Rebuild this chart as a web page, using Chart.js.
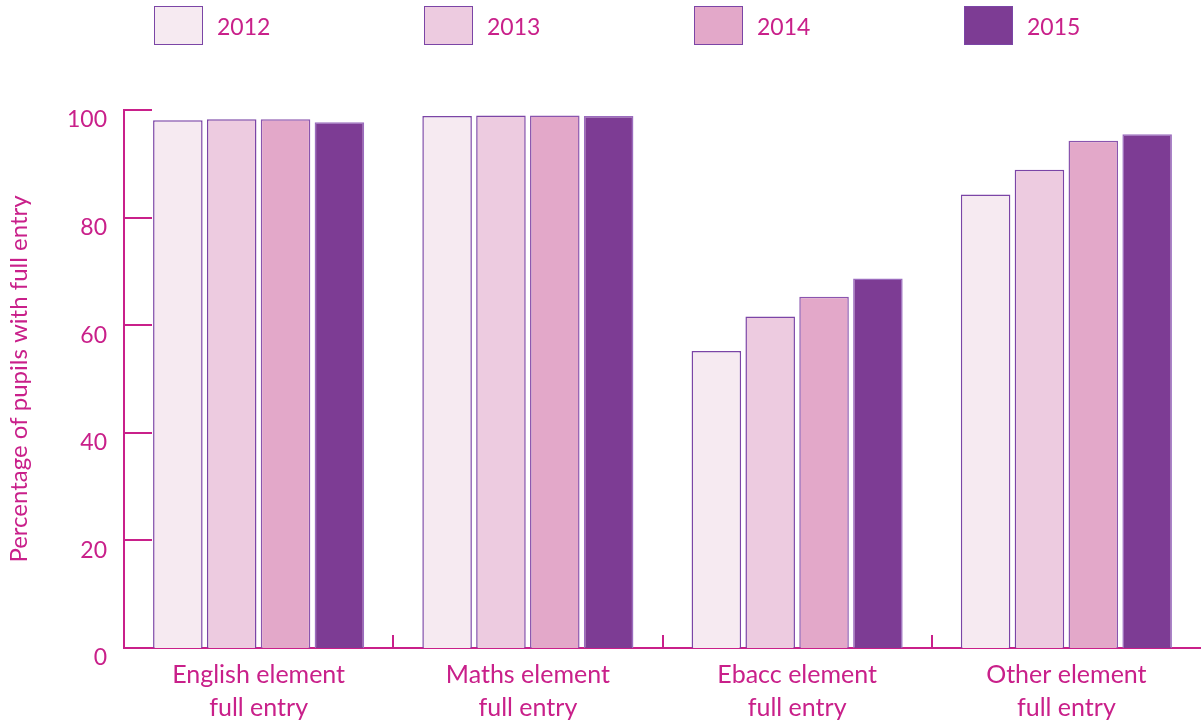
<!DOCTYPE html>
<html>
<head>
<meta charset="utf-8">
<script src="https://cdn.jsdelivr.net/npm/chart.js@4.4.1/dist/chart.umd.min.js"></script>
<style>
body { margin: 0; background: #fff; font-family: Lato, sans-serif; }
#wrap { position: relative; width: 1201px; height: 722px; }
#chart { position: absolute; left: 0; top: 0; }
#legend { position: absolute; left: 154px; top: 6px; display: flex; }
.item { width: 270px; display: flex; align-items: center; }
.box { width: 47px; height: 37px; border: 1px solid #7B45A6; margin-right: 14px; }
.item span { color: #C9208A; font-size: 23px; }
</style>
</head>
<body>
<div id="wrap">
  <canvas id="chart" width="1201" height="722"></canvas>
  <div id="legend"></div>
</div>
<script>
var categories = [
    ['English element', 'full entry'],
    ['Maths element', 'full entry'],
    ['Ebacc element', 'full entry'],
    ['Other element', 'full entry']
];
var years = ['2012', '2013', '2014', '2015'];
var values2012 = [98.1, 98.9, 55.2, 84.3];
var values2013 = [98.3, 99.0, 61.6, 88.9];
var values2014 = [98.3, 99.0, 65.3, 94.3];
var values2015 = [97.7, 98.9, 68.7, 95.5];
var yTicks = [0, 20, 40, 60, 80, 100];

var magenta = '#C9208A';
var fills = ['#F6EAF1', '#EDCBE0', '#E3A8C9', '#7D3C94'];
var borders = ['#7B45A6', '#7B45A6', '#8A55AE', '#9B6CBE'];

Chart.defaults.font.family = 'Lato, sans-serif';
Chart.defaults.color = magenta;

// inward tick marks like the original
var innerTicks = {
    id: 'innerTicks',
    afterDraw: function( chart )
    {
        var ctx = chart.ctx, area = chart.chartArea;
        var x = chart.scales.x, y = chart.scales.y;
        ctx.save();
        ctx.strokeStyle = magenta;
        ctx.lineWidth = 2;
        ctx.beginPath();
        yTicks.forEach(function( v ) {
            var py = Math.round( y.getPixelForValue( v ) );
            ctx.moveTo( area.left, py );
            ctx.lineTo( area.left + 28, py );
        });
        for ( var i = 0; i < categories.length - 1; i++ ) {
            var px = Math.round( ( x.getPixelForValue( i ) + x.getPixelForValue( i + 1 ) ) / 2 );
            ctx.moveTo( px, area.bottom );
            ctx.lineTo( px, area.bottom - 13 );
        }
        ctx.stroke();
        ctx.restore();
    }
};

function buildDataSets()
{
    var series = [values2012, values2013, values2014, values2015];
    return years.map(function( year, i ) {
        return {
            label: year,
            data: series[i],
            backgroundColor: fills[i],
            borderColor: borders[i],
            borderWidth: 1.5,
            categoryPercentage: 0.8,
            barPercentage: 0.92
        };
    });
}

function buildLegend( dataSets )
{
    var legend = document.getElementById( 'legend' );
    dataSets.forEach(function( ds ) {
        var item = document.createElement( 'div' );
        item.className = 'item';
        var box = document.createElement( 'div' );
        box.className = 'box';
        box.style.background = ds.backgroundColor;
        var text = document.createElement( 'span' );
        text.textContent = ds.label;
        item.appendChild( box );
        item.appendChild( text );
        legend.appendChild( item );
    });
}

var dataSets = buildDataSets();
buildLegend( dataSets );

var chart = new Chart( document.getElementById( 'chart' ).getContext( '2d' ), {
    type: 'bar',
    data: { labels: categories, datasets: dataSets },
    options: {
        responsive: false,
        animation: false,
        layout: { padding: { top: 110, right: 0, left: 0, bottom: 0 } },
        plugins: { legend: { display: false }, tooltip: { enabled: false } },
        scales: {
            x: {
                grid: { display: false, drawTicks: false },
                border: { display: true, color: magenta, width: 2 },
                ticks: { color: magenta, padding: 11, maxRotation: 0, font: { size: 25, lineHeight: 1.3 } },
                afterFit: function( scale ) { scale.height = 74; }
            },
            y: {
                min: 0,
                max: 100,
                afterBuildTicks: function( scale ) {
                    scale.ticks = yTicks.map(function( v ) { return { value: v }; });
                },
                grid: { display: false, drawTicks: false },
                border: { display: true, color: magenta, width: 2 },
                ticks: { color: magenta, padding: 17, labelOffset: 10, font: { size: 23 } },
                title: {
                    display: true,
                    text: 'Percentage of pupils with full entry',
                    color: magenta,
                    font: { size: 24 },
                    padding: { top: 5, bottom: 0 }
                },
                afterFit: function( scale ) { scale.width = 124; }
            }
        }
    },
    plugins: [innerTicks]
});
</script>
</body>
</html>
